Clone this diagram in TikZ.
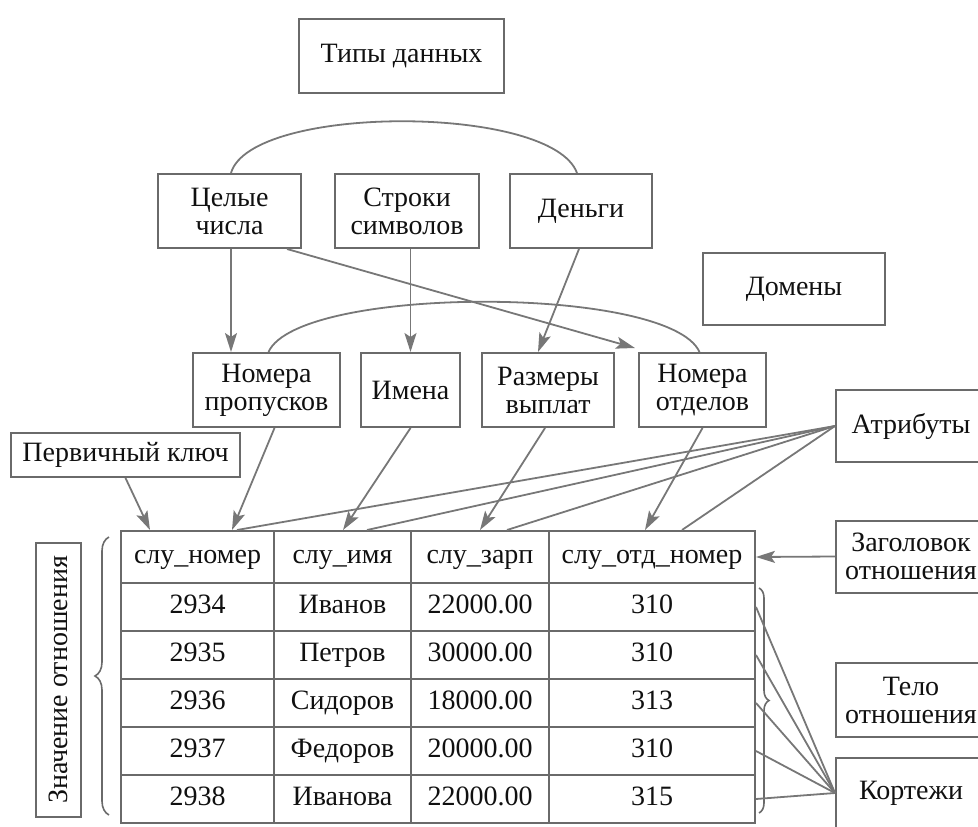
\documentclass[tikz,border=0pt]{standalone}
\usepackage{fontspec}
\setmainfont{Liberation Serif}
\usetikzlibrary{arrows.meta,calc,decorations.pathreplacing}
\definecolor{boxc}{HTML}{6A6A6A}
\definecolor{linec}{HTML}{777777}
\definecolor{txtc}{HTML}{101010}
\begin{document}
\begin{tikzpicture}[x=1pt,y=-1pt,
  lbl/.style={font=\fontsize{28}{28}\selectfont, text=txtc, align=center},
  box/.style={lbl, draw=boxc, line width=2pt, inner sep=0pt},
  cell/.style={lbl, draw=boxc, line width=2pt, inner sep=0pt, anchor=north west,
    text height=19pt, text depth=6pt},
  conn/.style={draw=linec, line width=1.8pt},
  arr/.style={conn, -{Stealth[length=19pt,width=12pt,inset=4pt]}},
  brc/.style={draw=boxc, line width=1.6pt, decorate}]
\useasboundingbox (0,0) rectangle (978,827);

% upper boxes
\node[box, minimum width=205, minimum height=74] (types) at (401.5,56) {Типы данных};
\node[box, minimum width=143, minimum height=74] (int) at (229.5,211) {Целые\\числа};
\node[box, minimum width=144, minimum height=74] (str) at (407,211) {Строки\\символов};
\node[box, minimum width=142, minimum height=74] (money) at (581,211) {Деньги};
\node[box, minimum width=182, minimum height=72] (dom) at (794,289) {Домены};
\node[box, minimum width=147, minimum height=74] (passno) at (266.5,390) {Номера\\пропусков};
\node[box, minimum width=99, minimum height=74] (names) at (410.5,390) {Имена};
\node[box, minimum width=132, minimum height=74] (pay) at (548,390) {Размеры\\выплат};
\node[box, minimum width=127, minimum height=74] (deptno) at (702.5,390) {Номера\\отделов};
\node[box, minimum width=229, minimum height=44] (pk) at (125.5,455) {Первичный ключ};

% right boxes
\node[box, minimum width=150, minimum height=72] (attrs) at (911,426) {Атрибуты};
\node[box, minimum width=150, minimum height=72] (hdr) at (911,556.5) {Заголовок\\отношения};
\node[box, minimum width=150, minimum height=74] (body) at (911,700) {Тело\\отношения};
\node[box, minimum width=150, minimum height=70] (tup) at (911,793) {Кортежи};

% table
\foreach \r/\y/\h/\a/\b/\c/\d in {
  0/530/52/слу\_номер/слу\_имя/слу\_зарп/слу\_отд\_номер,
  1/582/48/2934/Иванов/22000.00/310,
  2/630/48/2935/Петров/30000.00/310,
  3/678/48/2936/Сидоров/18000.00/313,
  4/726/48/2937/Федоров/20000.00/310,
  5/774/48/2938/Иванова/22000.00/315}{
  \node[cell, minimum width=153, minimum height=\h] (c\r-1) at (120,\y) {\a};
  \node[cell, minimum width=137, minimum height=\h] (c\r-2) at (273,\y) {\b};
  \node[cell, minimum width=138, minimum height=\h] (c\r-3) at (410,\y) {\c};
  \node[cell, minimum width=206, minimum height=\h] (c\r-4) at (548,\y) {\d};
}

% left label
\node[box, rotate=90, minimum width=274, minimum height=45] (val) at (58.5,680) {Значение отношения};

% braces
\draw[brc, decoration={brace, amplitude=14pt}] (109,815) -- (109,537);
\draw[brc, decoration={brace, amplitude=10pt}] (759,588) -- (759,813);

% end points
\coordinate (intb) at ($(int.south)+(1.5,0)$);
\coordinate (t1) at (150,530);
\coordinate (t2) at (232,530);
\coordinate (t3) at (343,530);
\coordinate (t4) at (480,530);
\coordinate (t5) at (645,530);
\coordinate (a1) at (237,530);
\coordinate (a2) at (367,530);
\coordinate (a3) at (507,530);
\coordinate (a4) at (682,530);

% arcs
\draw[conn] ($(int.north)+(1.5,0)$) .. controls +(20,-69) and +(-25,-69) .. ($(money.north)+(-4,0)$);
\draw[conn] ($(passno.north)+(2,0)$) .. controls +(30,-67) and +(-30,-67) .. ($(deptno.north)+(-3,0)$);

% domain arrows
\draw[arr] (intb) -- (intb |- passno.north);
\draw[arr] (names.north |- str.south) -- (names.north);
\draw[arr] ($(money.south)+(-2,0)$) -- ($(pay.north)+(-10,0)$);
\draw[arr] ($(int.south east)+(-15,0)$) -- ($(deptno.north west)+(-3,-4)$);

% attribute arrows
\draw[arr] ($(passno.south)+(8,0)$) -- (t2);
\draw[arr] (names.south) -- (t3);
\draw[arr] ($(pay.south)+(-3,0)$) -- (t4);
\draw[arr] (deptno.south) -- (t5);
\draw[arr] (pk.south) -- (t1);

\foreach \p in {a1,a2,a3,a4} \draw[conn] (attrs.west) -- (\p);

% header arrow
\draw[arr] (hdr.west) -- (c0-4.east);

% tuples
\foreach \r in {1,...,5} \draw[conn] (tup.west) -- (c\r-4.east);
\end{tikzpicture}
\end{document}
